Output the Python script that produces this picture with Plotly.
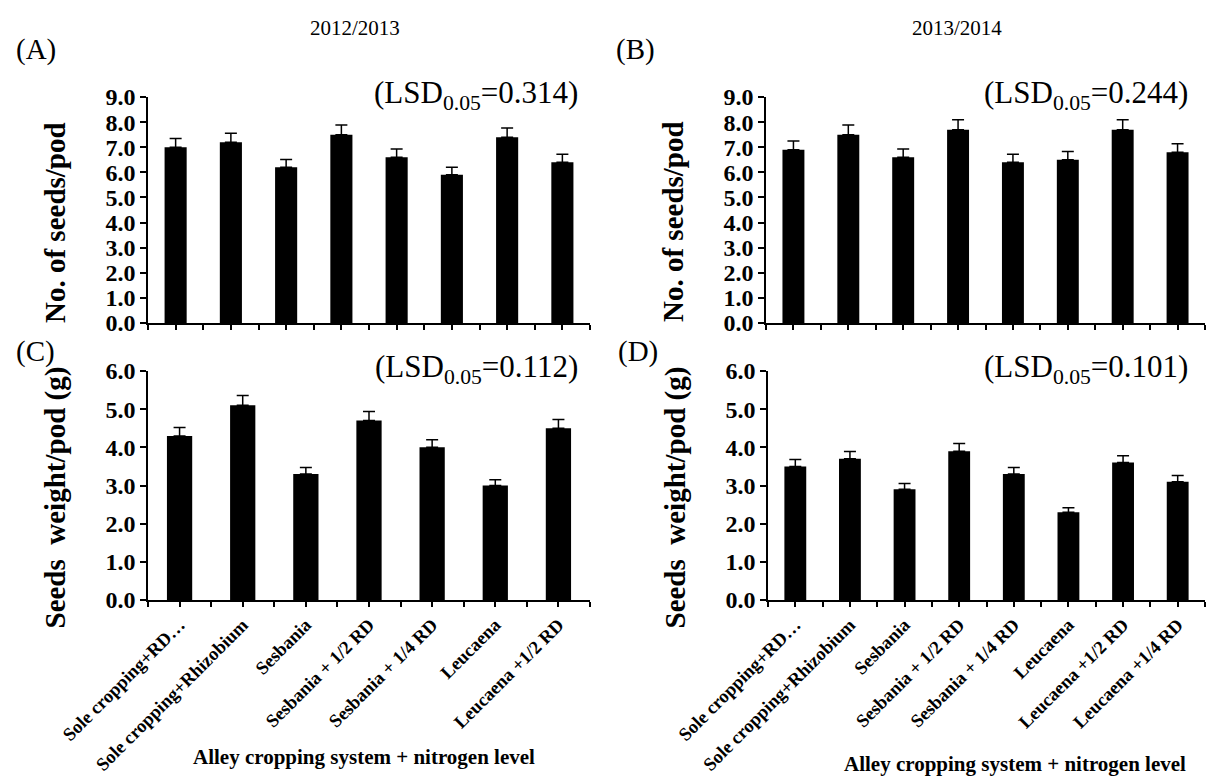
import plotly.graph_objects as go

W, H = 1208, 776
FONT = "Liberation Serif"

categories = [
    "Sole cropping+RD…",
    "Sole cropping+Rhizobium",
    "Sesbania",
    "Sesbania + 1/2 RD",
    "Sesbania + 1/4 RD",
    "Leucaena",
    "Leucaena +1/2 RD",
    "Leucaena +1/4 RD",
]

# (A) 2012/2013 seeds per pod
seeds_2012 = [7.0, 7.2, 6.2, 7.5, 6.6, 5.9, 7.4, 6.4]
seeds_2012_err = [0.35, 0.36, 0.31, 0.38, 0.33, 0.30, 0.37, 0.32]
# (B) 2013/2014 seeds per pod
seeds_2013 = [6.9, 7.5, 6.6, 7.7, 6.4, 6.5, 7.7, 6.8]
seeds_2013_err = [0.35, 0.38, 0.33, 0.39, 0.32, 0.33, 0.39, 0.34]
# (C) 2012/2013 seed weight per pod (first seven treatments)
weight_2012 = [4.3, 5.1, 3.3, 4.7, 4.0, 3.0, 4.5]
weight_2012_err = [0.22, 0.26, 0.17, 0.24, 0.20, 0.15, 0.23]
# (D) 2013/2014 seed weight per pod
weight_2013 = [3.5, 3.7, 2.9, 3.9, 3.3, 2.3, 3.6, 3.1]
weight_2013_err = [0.18, 0.19, 0.15, 0.20, 0.17, 0.12, 0.18, 0.16]

lsd_values = ["0.314", "0.244", "0.112", "0.101"]
years = ["2012/2013", "2013/2014"]


def px(x):
    return x / W


def py(y):
    return 1 - y / H


# panel boxes in pixels: (left, right, top, bottom)
panels = [
    dict(box=(148, 590, 97, 323), vals=seeds_2012, err=seeds_2012_err, ymax=9, labels=False,
         ytitle="No. of seeds/pod", letter="(A)", lsd=lsd_values[0]),
    dict(box=(766, 1205, 97, 323), vals=seeds_2013, err=seeds_2013_err, ymax=9, labels=False,
         ytitle="No. of seeds/pod", letter="(B)", lsd=lsd_values[1]),
    dict(box=(148, 590, 371, 600), vals=weight_2012, err=weight_2012_err, ymax=6, labels=True,
         ytitle="Seeds  weight/pod (g)", letter="(C)", lsd=lsd_values[2]),
    dict(box=(768, 1205, 371, 600), vals=weight_2013, err=weight_2013_err, ymax=6, labels=True,
         ytitle="Seeds  weight/pod (g)", letter="(D)", lsd=lsd_values[3]),
]

fig = go.Figure()
annotations = []
layout = {}

for i, p in enumerate(panels, start=1):
    l, r, t, b = p["box"]
    n = len(p["vals"])
    xs = list(range(n))
    xname = "x" if i == 1 else f"x{i}"
    yname = "y" if i == 1 else f"y{i}"
    fig.add_trace(go.Bar(
        x=xs, y=p["vals"], width=0.4,
        marker=dict(color="black", line=dict(width=0)),
        error_y=dict(type="data", symmetric=False, array=p["err"], arrayminus=[0] * n,
                     color="black", thickness=1.5, width=6),
        xaxis=xname, yaxis=yname, showlegend=False,
    ))
    ax_key = "xaxis" if i == 1 else f"xaxis{i}"
    ay_key = "yaxis" if i == 1 else f"yaxis{i}"
    layout[ax_key] = dict(
        domain=[px(l), px(r)], anchor=yname, automargin=False,
        range=[-0.5, n - 0.5], tickmode="array", tickvals=xs,
        ticktext=categories[:n],
        showticklabels=p["labels"], tickangle=-45,
        tickfont=dict(family=FONT, size=18.5, color="black", weight="bold"),
        ticks="outside", ticklen=5, tickwidth=1.5, tickcolor="black",
        minor=dict(tickvals=[k - 0.5 for k in range(n + 1)], ticks="outside",
                   ticklen=5, tickwidth=1.5, tickcolor="black"),
        showline=True, linecolor="black", linewidth=1.5,
        showgrid=False, zeroline=False, fixedrange=True,
    )
    layout[ay_key] = dict(
        domain=[py(b), py(t)], anchor=xname, automargin=False,
        range=[0, p["ymax"]], dtick=1, tick0=0, tickformat=".1f",
        tickfont=dict(family=FONT, size=24, color="black", weight="bold"),
        ticks="outside", ticklen=6, tickwidth=1.5, tickcolor="black",
        showline=True, linecolor="black", linewidth=1.5,
        showgrid=False, zeroline=False, fixedrange=True,
    )
    # y-axis title
    annotations.append(dict(
        text=p["ytitle"], x=px(l - 93), y=py((t + b) / 2 + 12), xref="paper", yref="paper",
        textangle=-90, showarrow=False, xanchor="center", yanchor="middle",
        font=dict(family=FONT, size=29, color="black", weight="bold"),
    ))
    # panel letter
    annotations.append(dict(
        text=p["letter"], x=px(l - 134 if l < 600 else l - 152), y=py(t - 47 if i <= 2 else t - 19),
        xref="paper", yref="paper", showarrow=False, xanchor="left", yanchor="middle",
        font=dict(family=FONT, size=29, color="black"),
    ))
    # LSD label
    annotations.append(dict(
        text=f"(LSD<sub>0.05</sub>=" + p["lsd"] + ")", x=px(r - 10 if l < 600 else r - 15),
        y=py(t - 2), xref="paper", yref="paper", showarrow=False,
        xanchor="right", yanchor="middle",
        font=dict(family=FONT, size=31, color="black"),
    ))

# season headings
for yr, cx in zip(years, [355, 957]):
    annotations.append(dict(
        text=yr, x=px(cx), y=py(28), xref="paper", yref="paper", showarrow=False,
        xanchor="center", yanchor="middle", font=dict(family=FONT, size=21, color="black"),
    ))

# x-axis titles for the lower panels
for cx, cy in [(364, 757), (1015, 764)]:
    annotations.append(dict(
        text="Alley cropping system + nitrogen level", x=px(cx), y=py(cy),
        xref="paper", yref="paper", showarrow=False, xanchor="center", yanchor="middle",
        font=dict(family=FONT, size=21, color="black", weight="bold"),
    ))

fig.update_layout(
    template="none",
    width=W, height=H, margin=dict(l=0, r=0, t=0, b=0),
    paper_bgcolor="white", plot_bgcolor="white",
    annotations=annotations, bargap=0.6, **layout,
)

fig.write_html("out.html")
